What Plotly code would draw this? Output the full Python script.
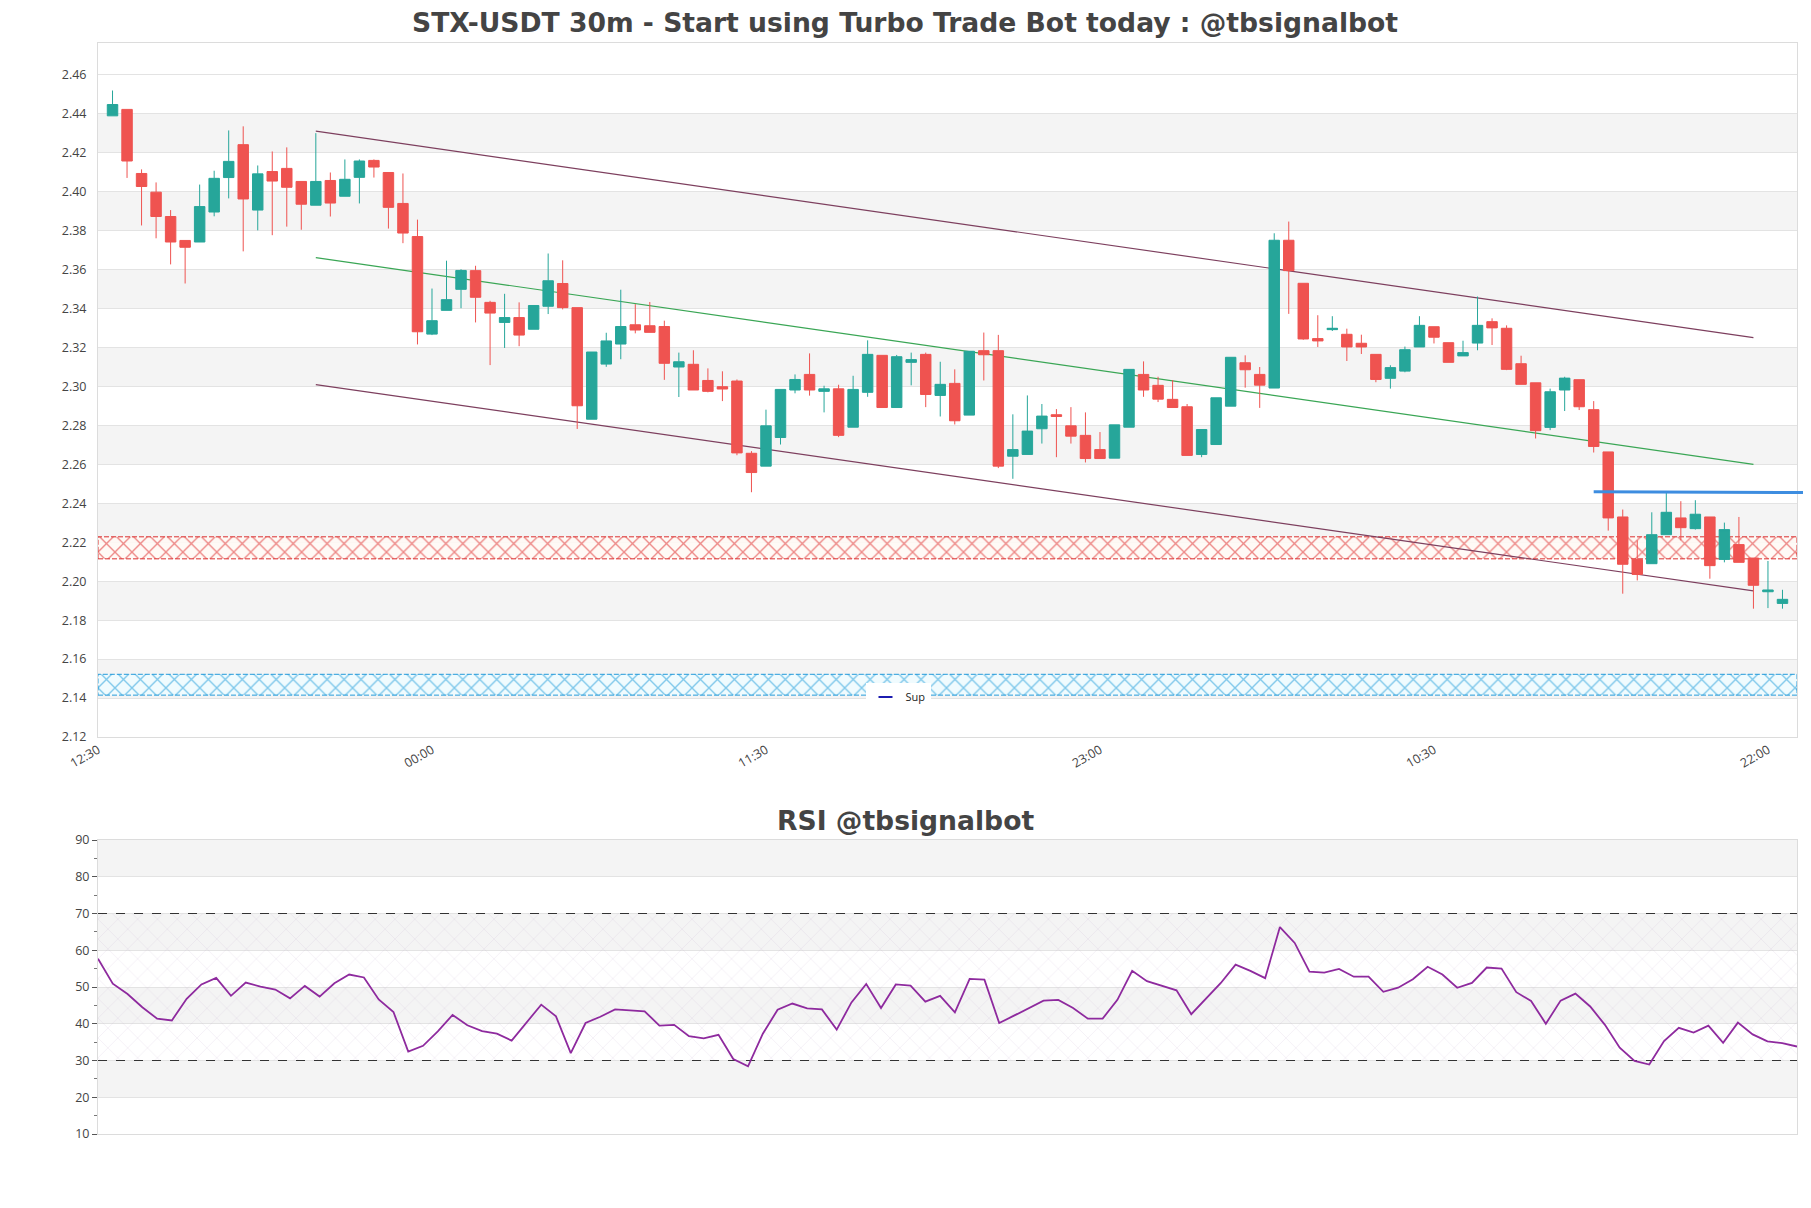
import pandas as pd
import plotly.graph_objects as go

# ---------------- data ----------------
start_time = "2024-04-15 13:00"
n_candles = 116
times = pd.date_range(start_time, periods=n_candles, freq="30min")

opens = [2.4390, 2.4423, 2.4094, 2.3998, 2.3873, 2.3750, 2.3742, 2.3896, 2.4073, 2.4242,
         2.3906, 2.4104, 2.4120, 2.4053, 2.3931, 2.4058, 2.3977, 2.4074, 2.4161, 2.4099,
         2.3940, 2.3770, 2.3269, 2.3391, 2.3499, 2.3595, 2.3432, 2.3329, 2.3354, 2.3294,
         2.3412, 2.3529, 2.3405, 2.2832, 2.3115, 2.3218, 2.3317, 2.3312, 2.3308, 2.3100,
         2.3114, 2.3031, 2.2999, 2.3028, 2.2657, 2.2591, 2.2738, 2.2982, 2.3062, 2.2975,
         2.2988, 2.2791, 2.2970, 2.3160, 2.2892, 2.3124, 2.3165, 2.2954, 2.3016, 2.2853,
         2.3184, 2.3184, 2.2642, 2.2651, 2.2783, 2.2855, 2.2798, 2.2749, 2.2676, 2.2632,
         2.2791, 2.3062, 2.3006, 2.2934, 2.2896, 2.2651, 2.2702, 2.2899, 2.3122, 2.3062,
         2.2992, 2.3751, 2.3530, 2.3246, 2.3292, 2.3268, 2.3222, 2.3165, 2.3042, 2.3079,
         2.3203, 2.3307, 2.3225, 2.3157, 2.3223, 2.3333, 2.3299, 2.3117, 2.3019, 2.2790,
         2.2982, 2.3035, 2.2881, 2.2664, 2.2330, 2.2112, 2.2090, 2.2239, 2.2325, 2.2270,
         2.2330, 2.2112, 2.2188, 2.2119, 2.1946, 2.1886]
highs = [2.4520, 2.4423, 2.4115, 2.4048, 2.3906, 2.3750, 2.4037, 2.4108, 2.4315, 2.4336,
         2.4135, 2.4207, 2.4228, 2.4053, 2.4301, 2.4099, 2.4166, 2.4166, 2.4166, 2.4099,
         2.4094, 2.3857, 2.3503, 2.3646, 2.3602, 2.3620, 2.3440, 2.3476, 2.3432, 2.3416,
         2.3683, 2.3648, 2.3405, 2.3177, 2.3276, 2.3497, 2.3423, 2.3434, 2.3338, 2.3174,
         2.3186, 2.3093, 2.3078, 2.3036, 2.2668, 2.2881, 2.2985, 2.3062, 2.3170, 2.3004,
         2.3009, 2.3055, 2.3237, 2.3160, 2.3162, 2.3174, 2.3174, 2.3127, 2.3088, 2.3181,
         2.3277, 2.3265, 2.2857, 2.2954, 2.2910, 2.2884, 2.2894, 2.2867, 2.2766, 2.2803,
         2.3088, 2.3129, 2.3050, 2.3033, 2.2910, 2.2779, 2.2942, 2.3150, 2.3160, 2.3100,
         2.3787, 2.3847, 2.3530, 2.3366, 2.3361, 2.3297, 2.3266, 2.3165, 2.3109, 2.3205,
         2.3361, 2.3307, 2.3225, 2.3235, 2.3462, 2.3350, 2.3314, 2.3158, 2.3019, 2.2989,
         2.3050, 2.3035, 2.2925, 2.2664, 2.2368, 2.2210, 2.2354, 2.2454, 2.2411, 2.2416,
         2.2330, 2.2301, 2.2330, 2.2119, 2.2104, 2.1956]
lows = [2.4390, 2.4071, 2.3827, 2.3761, 2.3627, 2.3529, 2.3742, 2.3874, 2.3966, 2.3694,
        2.3802, 2.3777, 2.3821, 2.3805, 2.3931, 2.3873, 2.3977, 2.3940, 2.4073, 2.3811,
        2.3736, 2.3216, 2.3264, 2.3391, 2.3402, 2.3329, 2.3110, 2.3198, 2.3207, 2.3294,
        2.3372, 2.3396, 2.2782, 2.2832, 2.3101, 2.3140, 2.3273, 2.3278, 2.3034, 2.2946,
        2.2982, 2.2970, 2.2925, 2.2647, 2.2457, 2.2591, 2.2702, 2.2965, 2.2953, 2.2867,
        2.2740, 2.2791, 2.2947, 2.2892, 2.2892, 2.3006, 2.2894, 2.2846, 2.2805, 2.2853,
        2.3031, 2.2581, 2.2526, 2.2651, 2.2707, 2.2637, 2.2707, 2.2610, 2.2630, 2.2632,
        2.2791, 2.2947, 2.2920, 2.2892, 2.2646, 2.2637, 2.2702, 2.2899, 2.2994, 2.2890,
        2.2992, 2.3373, 2.3240, 2.3203, 2.3285, 2.3131, 2.3167, 2.3022, 2.2989, 2.3073,
        2.3203, 2.3221, 2.3124, 2.3157, 2.3186, 2.3213, 2.3084, 2.3011, 2.2733, 2.2776,
        2.2874, 2.2879, 2.2661, 2.2260, 2.1936, 2.2004, 2.2090, 2.2239, 2.2210, 2.2265,
        2.2013, 2.2097, 2.2097, 2.1859, 2.1862, 2.1859]
closes = [2.4448, 2.4158, 2.4027, 2.3873, 2.3742, 2.3715, 2.3924, 2.4069, 2.4156, 2.3963,
          2.4092, 2.4055, 2.4023, 2.3936, 2.4053, 2.3942, 2.4064, 2.4158, 2.4127, 2.3920,
          2.3788, 2.3281, 2.3338, 2.3446, 2.3596, 2.3458, 2.3377, 2.3354, 2.3264, 2.3416,
          2.3543, 2.3405, 2.2901, 2.3177, 2.3234, 2.3308, 2.3290, 2.3278, 2.3119, 2.3127,
          2.2982, 2.2975, 2.2987, 2.2659, 2.2558, 2.2798, 2.2985, 2.3036, 2.2982, 2.2988,
          2.2749, 2.2985, 2.3165, 2.2892, 2.3153, 2.3138, 2.2959, 2.3011, 2.2824, 2.3181,
          2.3163, 2.2591, 2.2676, 2.2771, 2.2848, 2.2846, 2.2745, 2.2630, 2.2630, 2.2803,
          2.3088, 2.2982, 2.2935, 2.2892, 2.2646, 2.2779, 2.2942, 2.3150, 2.3086, 2.3007,
          2.3751, 2.3595, 2.3244, 2.3234, 2.3299, 2.3203, 2.3203, 2.3036, 2.3097, 2.3189,
          2.3314, 2.3253, 2.3124, 2.3174, 2.3314, 2.3301, 2.3088, 2.3011, 2.2773, 2.2973,
          2.3043, 2.2896, 2.2692, 2.2325, 2.2087, 2.2035, 2.2239, 2.2354, 2.2275, 2.2344,
          2.2080, 2.2265, 2.2097, 2.1979, 2.1955, 2.1907]

rsi_values = [57.7, 50.9, 48.1, 44.5, 41.4, 40.9, 46.8, 50.7, 52.5, 47.6,
              51.2, 50.1, 49.3, 46.9, 50.3, 47.4, 51.0, 53.4, 52.6, 46.6,
              43.2, 32.4, 34.0, 37.9, 42.4, 39.6, 38.0, 37.3, 35.4, 40.2,
              45.2, 42.0, 32.0, 40.2, 41.9, 43.9, 43.7, 43.4, 39.5, 39.7,
              36.6, 36.0, 37.0, 30.4, 28.4, 37.3, 43.8, 45.5, 44.2, 43.9,
              38.4, 45.8, 50.8, 44.3, 50.7, 50.4, 46.0, 47.6, 43.1, 52.2,
              52.0, 40.2, 42.2, 44.2, 46.3, 46.5, 44.3, 41.4, 41.4, 46.5,
              54.4, 51.6, 50.4, 49.1, 42.6, 46.9, 51.1, 56.1, 54.4, 52.4,
              66.3, 62.0, 54.2, 53.9, 54.9, 52.8, 52.8, 48.7, 49.8, 52.1,
              55.5, 53.4, 49.8, 51.1, 55.3, 55.0, 48.6, 46.2, 40.0, 46.3,
              48.2, 44.7, 39.7, 33.5, 29.9, 28.9, 35.3, 38.9, 37.6, 39.5,
              34.8, 40.3, 37.1, 35.2, 34.7, 33.8]

# channel trend lines (start / end candle index into times) and prices
channel_idx = [14, 113]
channel_upper = [2.4311, 2.3251]
channel_mid = [2.3662, 2.2600]
channel_lower = [2.3010, 2.1950]

resistance_line = [2.2460, 2.2455]     # blue line, starting at candle index 102
resistance_start_idx = 102
red_zone = [2.2115, 2.2228]
sup_zone = [2.1415, 2.1522]

rsi_levels = [30, 70]

x_tick_labels = ["12:30", "00:00", "11:30", "23:00", "10:30", "22:00"]

# ---------------- layout helpers ----------------
# the page body adds an 8px margin around the figure
W, H = 1795, 1192
ML, MR, MT, MB = 90, 6, 35, 66
OFF = 8
plot_h = H - MT - MB
main_dom = [(H + OFF - MB - 737) / plot_h, 1.0]
rsi_dom = [0.0, (H + OFF - MB - 840) / plot_h]

step = pd.Timedelta("30min")
x_range = [times[0] - step, times[-1] + step]
tick_vals = [x_range[0] + step * (23 * k) for k in range(len(x_tick_labels))]

y_min, y_max = 2.12, 2.4764
y_ticks = [round(y_min + 0.02 * k, 2) for k in range(18)]
rsi_ticks = list(range(10, 91, 10))

GREEN = "#26a69a"
RED = "#ef5350"
GRID = "#e3e3e3"
BAND = "#f4f4f4"
BORDER = "#dcdcdc"
TXT = "#444444"
TICKFONT = dict(size=12.5, color=TXT)

fig = go.Figure()

# zones (hatched) - on the base subplot, beneath the candles
zx = [x_range[0], x_range[1], x_range[1], x_range[0], x_range[0]]
fig.add_trace(go.Scatter(
    x=zx, y=[red_zone[0], red_zone[0], red_zone[1], red_zone[1], red_zone[0]],
    mode="lines", fill="toself", line=dict(color="rgba(215,25,25,0.9)", width=1, dash="5px,2px"),
    fillcolor="rgba(0,0,0,0)",
    fillpattern=dict(shape="x", fgcolor="rgba(220,25,25,1)", bgcolor="rgba(255,250,246,0.9)",
                     size=12, solidity=0.22),
    showlegend=False, hoverinfo="skip", xaxis="x", yaxis="y"))
fig.add_trace(go.Scatter(
    x=zx, y=[sup_zone[0], sup_zone[0], sup_zone[1], sup_zone[1], sup_zone[0]],
    mode="lines", fill="toself", line=dict(color="rgba(15,145,215,0.9)", width=1, dash="5px,2px"),
    fillcolor="rgba(0,0,0,0)",
    fillpattern=dict(shape="x", fgcolor="rgba(15,150,215,1)", bgcolor="rgba(240,252,255,0.9)",
                     size=12, solidity=0.22),
    showlegend=False, hoverinfo="skip", xaxis="x", yaxis="y"))

# channel lines
cx = [times[channel_idx[0]], times[channel_idx[1]]]
for vals, col in [(channel_upper, "#7d3f5e"), (channel_lower, "#7d3f5e"), (channel_mid, "#3aa655")]:
    fig.add_trace(go.Scatter(x=cx, y=vals, mode="lines", line=dict(color=col, width=1.2),
                             showlegend=False, hoverinfo="skip", xaxis="x", yaxis="y"))

# candles on an overlaid subplot so they are drawn above the zones
fig.add_trace(go.Candlestick(
    x=times, open=opens, high=highs, low=lows, close=closes,
    increasing=dict(line=dict(color=GREEN, width=1), fillcolor=GREEN),
    decreasing=dict(line=dict(color=RED, width=1), fillcolor=RED),
    showlegend=False, xaxis="x3", yaxis="y3", hoverinfo="skip"))

# legend entry "Sup"
fig.add_trace(go.Scatter(x=[None], y=[None], mode="markers", name="Sup",
                         marker=dict(symbol="line-ew", size=10, color="#1c1cb0",
                                     line=dict(color="#1c1cb0", width=2)),
                         xaxis="x", yaxis="y"))

# RSI hatch region + levels + line
rx = [times[0], times[-1], times[-1], times[0], times[0]]
fig.add_trace(go.Scatter(
    x=rx, y=[rsi_levels[0], rsi_levels[0], rsi_levels[1], rsi_levels[1], rsi_levels[0]],
    mode="lines", fill="toself", line=dict(width=0), fillcolor="rgba(0,0,0,0)",
    fillpattern=dict(shape="x", fgcolor="rgba(175,145,195,0.6)", bgcolor="rgba(0,0,0,0)",
                     size=14, solidity=0.06),
    showlegend=False, hoverinfo="skip", xaxis="x2", yaxis="y2"))
for lv in rsi_levels:
    fig.add_trace(go.Scatter(x=[times[0], times[-1]], y=[lv, lv], mode="lines",
                             line=dict(color="#333333", width=1.2, dash="dash"),
                             showlegend=False, hoverinfo="skip", xaxis="x2", yaxis="y2"))
fig.add_trace(go.Scatter(x=times, y=rsi_values, mode="lines",
                         line=dict(color="#8e2a9e", width=1.8),
                         showlegend=False, hoverinfo="skip", xaxis="x2", yaxis="y2"))

# background bands
shapes = []
for k in range(1, len(y_ticks) - 1, 2):
    shapes.append(dict(type="rect", xref="x domain", yref="y", x0=0, x1=1,
                       y0=y_ticks[k], y1=y_ticks[k + 1], fillcolor=BAND, line=dict(width=0),
                       layer="below"))
for k in range(1, len(rsi_ticks) - 1, 2):
    shapes.append(dict(type="rect", xref="x2 domain", yref="y2", x0=0, x1=1,
                       y0=rsi_ticks[k], y1=rsi_ticks[k + 1], fillcolor=BAND, line=dict(width=0),
                       layer="below"))
# blue resistance line (extends slightly past the plot edge)
span = (x_range[1] - x_range[0])
x0_paper = (times[resistance_start_idx] - x_range[0]) / span
shapes.append(dict(type="line", xref="paper", yref="y", x0=x0_paper, x1=1.005,
                   y0=resistance_line[0], y1=resistance_line[1],
                   line=dict(color="#3d8de0", width=3)))

fig.update_layout(
    width=W, height=H,
    margin=dict(l=ML, r=MR, t=MT, b=MB),
    paper_bgcolor="white", plot_bgcolor="white",
    font=dict(family="Open Sans", color=TXT, size=11),
    shapes=shapes,
    boxgap=0.28, boxgroupgap=0,
    showlegend=True,
    legend=dict(x=(898 - OFF - ML) / (W - ML - MR), y=(H + OFF - MB - 697) / plot_h,
                xanchor="center", yanchor="middle",
                bgcolor="white", font=dict(size=11, color="#222"), orientation="h"),
    xaxis=dict(domain=[0, 1], anchor="y", range=x_range, type="date",
               tickvals=tick_vals, ticktext=x_tick_labels, tickangle=-30,
               showgrid=False, showline=True, mirror=True, linecolor=BORDER,
               rangeslider=dict(visible=False), tickfont=TICKFONT,
               zeroline=False),
    yaxis=dict(domain=main_dom, anchor="x", range=[y_min, y_max],
               tickvals=y_ticks, tickformat=".2f", gridcolor=GRID, showline=True,
               mirror=True, linecolor=BORDER, zeroline=False, ticks="",
               ticklabelstandoff=8, tickfont=TICKFONT),
    xaxis3=dict(overlaying="x", anchor="y3", range=x_range, type="date", visible=False,
                rangeslider=dict(visible=False), showgrid=False, zeroline=False),
    yaxis3=dict(overlaying="y", anchor="x3", range=[y_min, y_max], visible=False,
                showgrid=False, zeroline=False),
    xaxis2=dict(domain=[0, 1], anchor="y2", range=[times[0], times[-1]], type="date",
                showticklabels=False, showgrid=False, showline=True, mirror=True,
                linecolor=BORDER, zeroline=False),
    yaxis2=dict(domain=rsi_dom, anchor="x2", range=[10, 90], tickvals=rsi_ticks,
                gridcolor=GRID, showline=True, mirror=True, linecolor=BORDER,
                zeroline=False, ticks="outside", ticklen=5, tickcolor="#555",
                minor=dict(ticks="outside", ticklen=3, dtick=5, tickcolor="#777", showgrid=False),
                tickfont=TICKFONT),
    annotations=[
        dict(text="STX-USDT 30m - Start using Turbo Trade Bot today : @tbsignalbot",
             xref="paper", yref="paper", x=(905 - OFF - ML) / (W - ML - MR),
             y=(H + OFF - MB - 23) / plot_h, xanchor="center", yanchor="middle",
             showarrow=False, font=dict(size=26.6, color=TXT, family="DejaVu Sans", weight="bold")),
        dict(text="RSI @tbsignalbot",
             xref="paper", yref="paper", x=(905 - OFF - ML) / (W - ML - MR),
             y=(H + OFF - MB - 820) / plot_h, xanchor="center", yanchor="middle",
             showarrow=False, font=dict(size=26.6, color=TXT, family="DejaVu Sans", weight="bold")),
    ],
)

fig.write_html("out.html")
